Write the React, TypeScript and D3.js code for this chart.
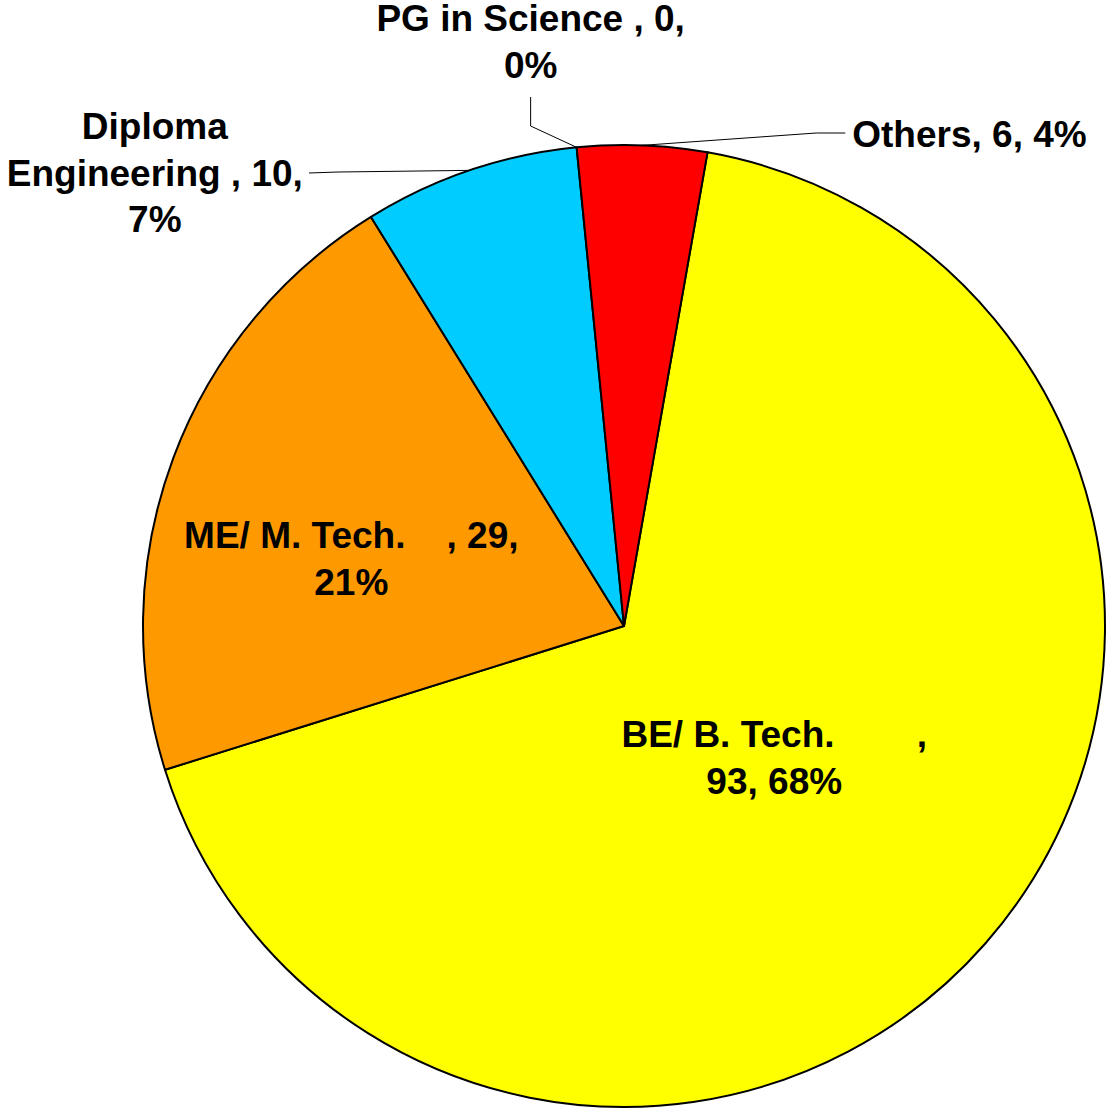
import React, { useRef, useEffect } from "react";
import * as d3 from "d3";

const categories = ["BE/ B. Tech.", "ME/ M. Tech.", "Diploma Engineering", "PG in Science", "Others"];
const counts = [93, 29, 10, 0, 6];
const percents = ["68%", "21%", "7%", "0%", "4%"];
const colors = ["#FFFF00", "#FF9900", "#00CCFF", "#FFFFFF", "#FF0000"];

// label text lines as shown on the chart
const labelLines = [
  ["BE/ B. Tech.        ,", "93, 68%"],
  ["ME/ M. Tech.    , 29,", "21%"],
  ["Diploma", "Engineering , 10,", "7%"],
  ["PG in Science , 0,", "0%"],
  ["Others, 6, 4%"],
];

export default function App() {
  const ref = useRef<SVGSVGElement>(null);

  useEffect(() => {
    const width = 1108;
    const height = 1109;
    const cx = 624;
    const cy = 626;
    const r = 481;
    const fontSize = 37;
    const lineH = 46.5;

    const svg = d3.select(ref.current);
    svg.selectAll("*").remove();
    svg.attr("width", width).attr("height", height);

    const data = categories.map((c, i) => ({ name: c, value: counts[i], i }));
    const startA = (10 * Math.PI) / 180;
    const pie = d3.pie<any>().sort(null).value(d => d.value).startAngle(startA).endAngle(startA + 2 * Math.PI);
    const arcs = pie(data);
    const arc = d3.arc<any>().innerRadius(0).outerRadius(r);

    const g = svg.append("g").attr("transform", `translate(${cx},${cy})`);

    g.selectAll("path")
      .data(arcs.filter(a => a.data.value > 0))
      .enter()
      .append("path")
      .attr("d", arc)
      .attr("fill", a => colors[a.data.i])
      .attr("stroke", "#000")
      .attr("stroke-width", 2)
      .attr("stroke-linejoin", "round");

    const mid = (a: any) => (a.startAngle + a.endAngle) / 2;
    const onArc = (ang: number, rr: number): [number, number] => [rr * Math.sin(ang), -rr * Math.cos(ang)];

    // label anchor (center x, first baseline y) relative to the pie centre
    const placeLabel = (a: any): [number, number, string] => {
      const i = a.data.i;
      const m = mid(a);
      if (i === 0) { const p = onArc(m, 200); return [p[0], p[1] - 11, "middle"]; }
      if (i === 1) { const p = onArc(m, 291); return [p[0], p[1] + 24, "middle"]; }
      if (i === 2) { const p = onArc(m, r); return [p[0] - 315, p[1] - 31, "middle"]; }
      if (i === 3) { const p = onArc(m, r); return [p[0] - 46, p[1] - 116, "middle"]; }
      const p = onArc(m, r); return [p[0] + 210, p[1] + 2, "start"];
    };

    // leader lines for the outside labels
    const leader = (a: any): [number, number][] | null => {
      const i = a.data.i;
      const e = onArc(mid(a), r);
      if (i === 2) return [[-315, -453], [-286, -454], e];
      if (i === 3) return [[e[0] - 46, -529], [e[0] - 46, -500], e];
      if (i === 4) return [[e[0] + 203, -493], [e[0] + 174, -493], e];
      return null;
    };

    const line = d3.line();
    arcs.forEach(a => {
      const pts = leader(a);
      if (pts) {
        g.append("path")
          .attr("d", line(pts))
          .attr("fill", "none")
          .attr("stroke", "#000")
          .attr("stroke-width", 1);
      }
    });

    arcs.forEach(a => {
      const [x, y, anchor] = placeLabel(a);
      const t = g.append("text")
        .attr("x", x)
        .attr("y", y)
        .attr("text-anchor", anchor)
        .style("font-family", "'Liberation Sans', Arial, sans-serif")
        .style("font-weight", 700)
        .style("font-size", fontSize + "px")
        .style("white-space", "pre")
        .attr("fill", "#000");
      labelLines[a.data.i].forEach((s, k) => {
        t.append("tspan").attr("x", x).attr("y", y + k * lineH).text(s);
      });
    });
  }, []);

  return (
    <svg ref={ref} style={{ position: "absolute", left: 0, top: 0, background: "#fff" }}></svg>
  );
}
